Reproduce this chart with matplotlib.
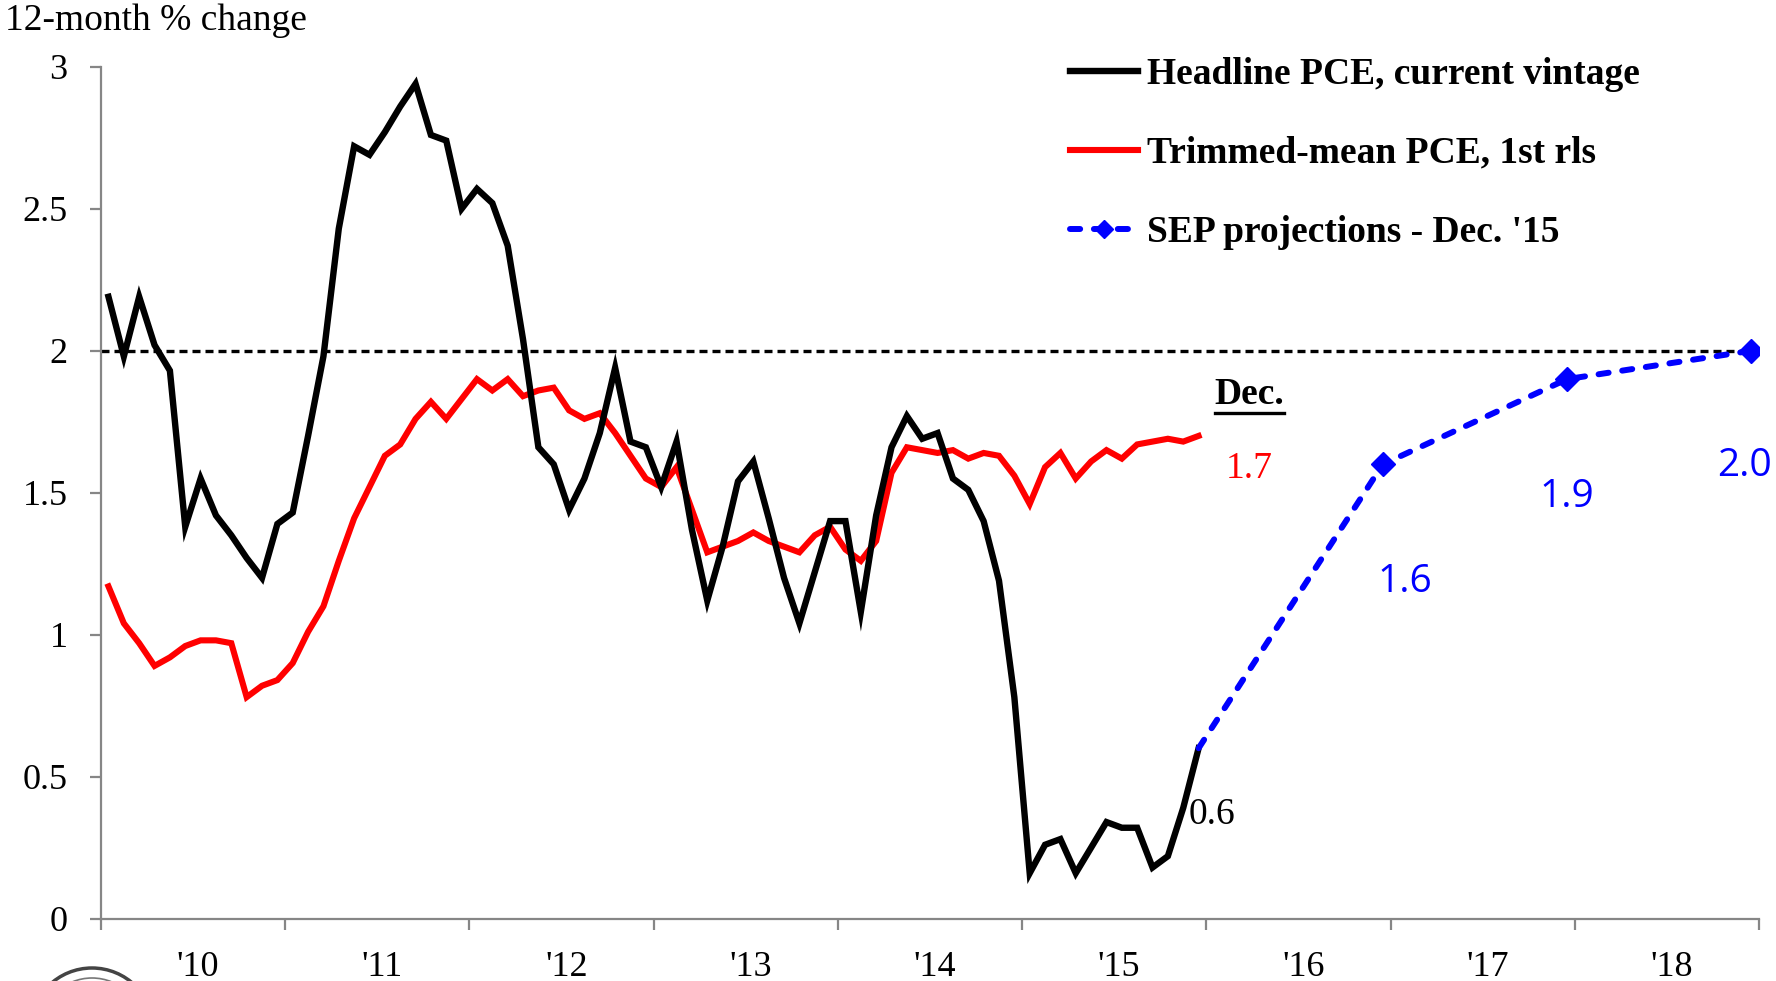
import matplotlib
matplotlib.use("Agg")
import matplotlib.pyplot as plt
from matplotlib.lines import Line2D
from matplotlib.patches import Circle
from matplotlib.transforms import ScaledTranslation
import numpy as np

# ---------------- data ----------------
start_year = 2010
headline_pce = [
    2.19, 1.98, 2.19, 2.02, 1.93, 1.38, 1.55, 1.42, 1.35, 1.27, 1.20, 1.39,   # 2010
    1.43, 1.70, 1.98, 2.43, 2.72, 2.69, 2.77, 2.86, 2.94, 2.76, 2.74, 2.50,   # 2011
    2.57, 2.52, 2.37, 2.04, 1.66, 1.60, 1.44, 1.55, 1.71, 1.94, 1.68, 1.66,   # 2012
    1.52, 1.68, 1.37, 1.12, 1.31, 1.54, 1.61, 1.41, 1.20, 1.04, 1.22, 1.40,   # 2013
    1.40, 1.08, 1.42, 1.66, 1.77, 1.69, 1.71, 1.55, 1.51, 1.40, 1.19, 0.78,   # 2014
    0.16, 0.26, 0.28, 0.16, 0.25, 0.34, 0.32, 0.32, 0.18, 0.22, 0.39, 0.60,   # 2015
]
trimmed_mean_pce = [
    1.17, 1.04, 0.97, 0.89, 0.92, 0.96, 0.98, 0.98, 0.97, 0.78, 0.82, 0.84,   # 2010
    0.90, 1.01, 1.10, 1.26, 1.41, 1.52, 1.63, 1.67, 1.76, 1.82, 1.76, 1.83,   # 2011
    1.90, 1.86, 1.90, 1.84, 1.86, 1.87, 1.79, 1.76, 1.78, 1.71, 1.63, 1.55,   # 2012
    1.52, 1.59, 1.44, 1.29, 1.31, 1.33, 1.36, 1.33, 1.31, 1.29, 1.35, 1.38,   # 2013
    1.30, 1.26, 1.33, 1.57, 1.66, 1.65, 1.64, 1.65, 1.62, 1.64, 1.63, 1.56,   # 2014
    1.46, 1.59, 1.64, 1.55, 1.61, 1.65, 1.62, 1.67, 1.68, 1.69, 1.68, 1.70,   # 2015
]
sep_years = [2015, 2016, 2017, 2018]
sep_values = [0.6, 1.6, 1.9, 2.0]
target = 2.0
year_labels = ["'10", "'11", "'12", "'13", "'14", "'15", "'16", "'17", "'18"]
y_ticks = [0, 0.5, 1, 1.5, 2, 2.5, 3]
y_tick_labels = ["0", "0.5", "1", "1.5", "2", "2.5", "3"]
legend_labels = ["Headline PCE, current vintage", "Trimmed-mean PCE, 1st rls",
                 "SEP projections - Dec. '15"]

# month-centre positions (fractional years) and Q4 (December) positions
months = np.arange(len(headline_pce))
x_month = start_year + (months + 0.5) / 12.0
x_sep = np.array(sep_years) + 11.5 / 12.0

# ---------------- figure ----------------
plt.rcParams['font.family'] = ['Liberation Serif', 'DejaVu Serif']
W, H = 1776, 981
fig = plt.figure(figsize=(W / 100, H / 100), dpi=100)
ax = fig.add_axes([100.8 / W, 1 - 918.6 / H, (1759 - 100.8) / W, (918.6 - 66.8) / H])

gray = '#868686'
fs = 26

ax.axhline(target, color='black', lw=2.4, dashes=(2.4, 1.5), zorder=1)
l_head, = ax.plot(x_month, headline_pce, color='black', lw=4.6,
                  solid_joinstyle='miter', zorder=3)
l_trim, = ax.plot(x_month, trimmed_mean_pce, color='#FF0000', lw=4.4,
                  solid_joinstyle='miter', zorder=2)
l_sep, = ax.plot(x_sep, sep_values, color='#0000FF', lw=4.3,
                 dashes=(1.7, 2.3), dash_capstyle='round',
                 marker='D', markersize=12, markevery=[1, 2, 3], zorder=4)

ax.set_xlim(2010, 2019)
ax.set_ylim(0, 3)

for s in ['top', 'right']:
    ax.spines[s].set_visible(False)
for s in ['left', 'bottom']:
    ax.spines[s].set_color(gray)
    ax.spines[s].set_linewidth(1.6)

ax.set_yticks(y_ticks)
ax.set_yticklabels(y_tick_labels)
ax.tick_params(axis='y', direction='out', length=8, width=1.6, color=gray,
               labelsize=fs, pad=16)

ax.set_xticks(np.arange(2010, 2020))
ax.set_xticklabels([])
ax.set_xticks(np.arange(2010, 2019) + 0.5, minor=True)
ax.set_xticklabels(year_labels, minor=True)
ax.tick_params(axis='x', which='major', direction='out', length=8, width=1.6, color=gray)
ax.tick_params(axis='x', which='minor', length=0, labelsize=fs, pad=23)
shift = ScaledTranslation(5 / 100, 0, fig.dpi_scale_trans)
for lab in ax.get_xticklabels(minor=True):
    lab.set_transform(lab.get_transform() + shift)

fig.text(5 / W, 1 - 30 / H, "12-month % change", fontsize=27, ha='left', va='baseline')

# legend
leg = ax.legend([l_head, l_trim, l_sep], legend_labels, loc='upper left',
                bbox_to_anchor=(1070 / W, 1 - 57 / H), bbox_transform=fig.transFigure,
                frameon=False, prop={'family': 'Liberation Serif', 'weight': 'bold', 'size': 27},
                handlelength=1.8, handletextpad=0.25, labelspacing=1.17,
                borderpad=0, borderaxespad=0, markerscale=0.8)

# annotations
dec_txt = ax.text(2016.235, 1.845, "Dec.", fontsize=27, fontweight='bold',
                  ha='center', va='center', color='black')
ax.text(2016.235, 1.585, "1.7", fontsize=27, ha='center', va='center', color='#FF0000')
ax.text(2016.03, 0.365, "0.6", fontsize=27, ha='center', va='center', color='black')
for xv, yv, lab in [(2017.08, 1.185, "1.6"), (2017.955, 1.485, "1.9"), (2018.92, 1.595, "2.0")]:
    ax.text(xv, yv, lab, fontsize=28, family=['Open Sans', 'DejaVu Sans'],
            ha='center', va='center', color='#0000FF', clip_on=False)

# underline for "Dec."
fig.canvas.draw()
bb = dec_txt.get_window_extent()
fig.add_artist(Line2D([bb.x0 / W, bb.x1 / W], [(bb.y0 - 1) / H, (bb.y0 - 1) / H],
                      transform=fig.transFigure, color='black', lw=2.4))

# partial seal at bottom-left (mostly below the figure edge)
seal_c = (0.92, -0.49)
fig.add_artist(Circle(seal_c, 0.62, transform=fig.dpi_scale_trans,
                      fill=False, ec='#444444', lw=2.5))
fig.add_artist(Circle(seal_c, 0.52, transform=fig.dpi_scale_trans,
                      fill=False, ec='#777777', lw=1.2))

fig.savefig("out.png", dpi=100)
